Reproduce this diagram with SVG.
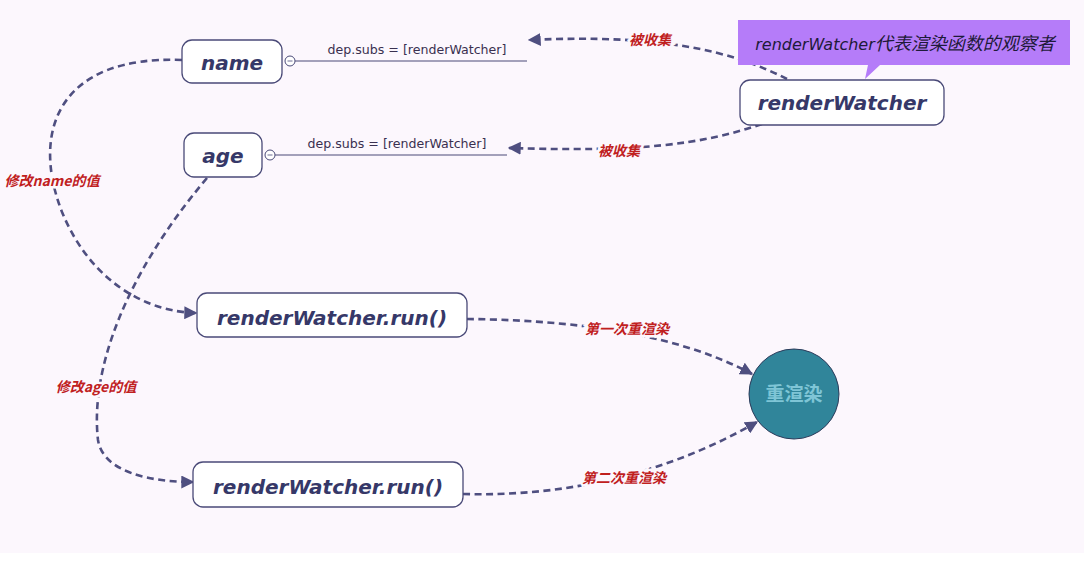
<svg xmlns="http://www.w3.org/2000/svg" width="1084" height="564" viewBox="0 0 1084 564">
  <defs>
    <marker id="arr" viewBox="0 0 10 10" refX="9" refY="5" markerWidth="5" markerHeight="5" orient="auto" markerUnits="strokeWidth">
      <path d="M0,0 L10,5 L0,10 z" fill="#4f4f80"/>
    </marker>
    <style>
      .node rect { fill: #ffffff; stroke: #4a4a78; stroke-width: 1.3; }
      .ntext { font-family: "DejaVu Sans", Verdana, sans-serif; font-weight: bold; font-style: italic; font-size: 20px; fill: #363868; text-anchor: middle; }
      .conn { fill: none; stroke: #4f4f80; stroke-width: 2.6; stroke-dasharray: 7 4.5; }
      .solid { fill: none; stroke: #4a4a78; stroke-width: 1.2; }
      .dep { font-family: "DejaVu Sans", Verdana, sans-serif; font-size: 12.6px; fill: #3a3050; text-anchor: middle; }
      .lbl { font-family: "Noto Sans CJK SC", "Liberation Sans", sans-serif; font-weight: bold; font-style: italic; font-size: 14px; fill: #c0201e; text-anchor: middle; paint-order: stroke; stroke: #fcf7fd; stroke-width: 5px; }
    </style>
  </defs>
  <rect x="0" y="0" width="1084" height="553" fill="#fcf7fd"/>
  <rect x="0" y="553" width="1084" height="11" fill="#ffffff"/>

  <g id="connectors">
    <path class="conn" d="M787,79 C730,50 660,34 529,40" marker-end="url(#arr)"/>
    <path class="conn" d="M762,124 C700,145 640,152 509,148" marker-end="url(#arr)"/>
    <path class="conn" d="M182,60 C60,55 30,130 62,212 C92,285 150,312 196,313" marker-end="url(#arr)"/>
    <path class="conn" d="M207,178 C125,275 90,370 98,440 C103,472 150,482 193,482" marker-end="url(#arr)"/>
    <path class="conn" d="M467,319 C560,320 670,330 752,374" marker-end="url(#arr)"/>
    <path class="conn" d="M463,494 C570,497 670,472 757,422" marker-end="url(#arr)"/>
    <text class="lbl" x="650" y="45">被收集</text>
    <text class="lbl" x="619" y="156">被收集</text>
    <text class="lbl" x="52" y="186">修改name的值</text>
    <text class="lbl" x="96" y="392">修改age的值</text>
    <text class="lbl" x="627" y="334">第一次重渲染</text>
    <text class="lbl" x="624" y="483">第二次重渲染</text>
  </g>

  <g id="node-name" class="node">
    <rect x="182" y="40" width="100" height="43" rx="10"/>
    <text class="ntext" x="232" y="70">name</text>
    <circle cx="290" cy="61" r="5" fill="#ffffff" stroke="#4a4a78" stroke-width="1"/>
    <line x1="287.5" y1="61" x2="292.5" y2="61" stroke="#4a4a78" stroke-width="0.8"/>
    <line class="solid" x1="295" y1="61" x2="527" y2="61"/>
    <text class="dep" x="417" y="54">dep.subs = [renderWatcher]</text>
  </g>

  <g id="node-age" class="node">
    <rect x="184" y="133" width="78" height="44" rx="10"/>
    <text class="ntext" x="223" y="163">age</text>
    <circle cx="270" cy="155" r="5" fill="#ffffff" stroke="#4a4a78" stroke-width="1"/>
    <line x1="267.5" y1="155" x2="272.5" y2="155" stroke="#4a4a78" stroke-width="0.8"/>
    <line class="solid" x1="275" y1="155" x2="507" y2="155"/>
    <text class="dep" x="397" y="148">dep.subs = [renderWatcher]</text>
  </g>

  <g id="callout">
    <path d="M738,20 H1070 V65 H880 L865,79 L868,65 H738 Z" fill="#b57cf9"/>
    <text x="905" y="50" font-family="'DejaVu Sans', 'Noto Sans CJK SC', sans-serif" font-style="italic" font-size="16" fill="#1e1a3a" text-anchor="middle">renderWatcher<tspan font-family="'Noto Sans CJK SC', sans-serif" font-size="18">代表渲染函数的观察者</tspan></text>
  </g>

  <g id="node-renderWatcher" class="node">
    <rect x="740" y="80" width="204" height="45" rx="10"/>
    <text class="ntext" x="842" y="110">renderWatcher</text>
  </g>

  <g id="node-run1" class="node">
    <rect x="197" y="293" width="270" height="44" rx="10"/>
    <text class="ntext" x="332" y="325">renderWatcher.run()</text>
  </g>

  <g id="node-run2" class="node">
    <rect x="193" y="462" width="270" height="45" rx="10"/>
    <text class="ntext" x="328" y="494">renderWatcher.run()</text>
  </g>

  <g id="node-rerender">
    <circle cx="794" cy="394" r="45" fill="#30859a" stroke="#2b3a5a" stroke-width="1"/>
    <text x="794" y="401" font-family="'Noto Sans CJK SC', sans-serif" font-weight="bold" font-size="19" fill="#7fc5d6" text-anchor="middle">重渲染</text>
  </g>
</svg>
